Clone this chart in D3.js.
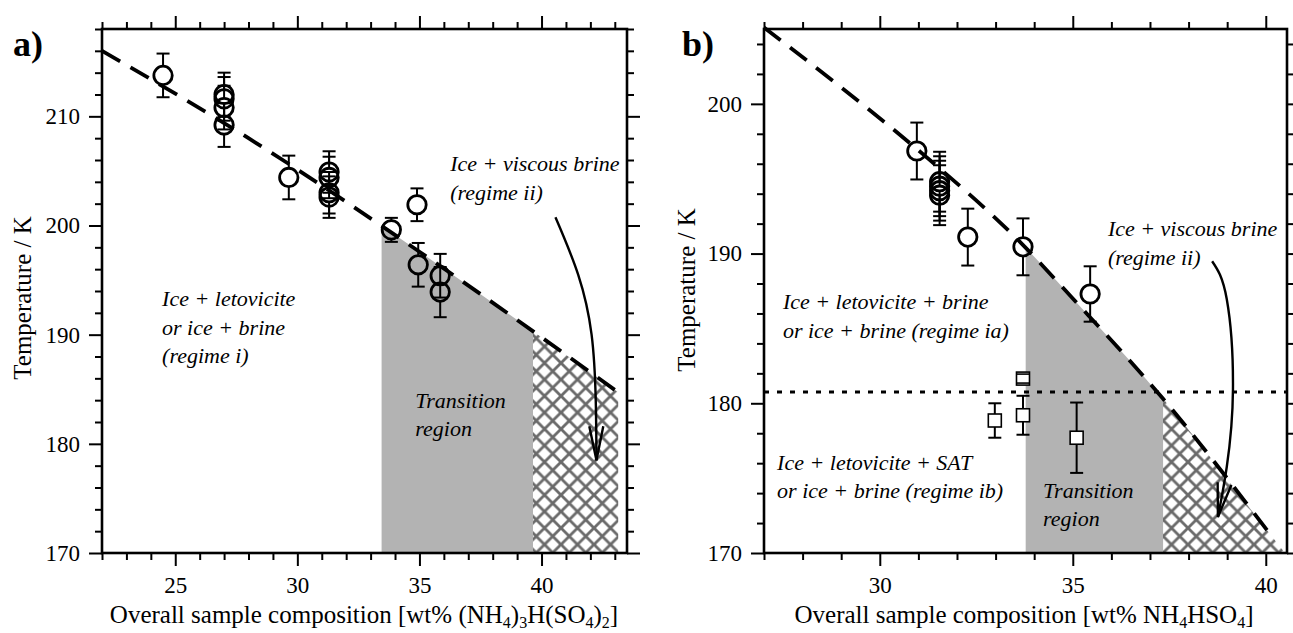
<!DOCTYPE html>
<html>
<head>
<meta charset="utf-8">
<script src="https://cdn.jsdelivr.net/npm/d3@7"></script>
<style>
  body { margin: 0; background: #fff; }
  svg { display: block; }
  svg text { font-family: "Liberation Serif", "DejaVu Serif", "Times New Roman", serif !important; fill: #000; }
</style>
</head>
<body>
<svg id="chart" width="1293" height="633"></svg>
<script>
// ---- panel a: (NH4)3H(SO4)2 ----
const compA = [24.5, 27, 27, 27, 27, 29.65, 31.3, 31.3, 31.3, 31.3, 33.85, 34.9, 34.95, 35.85, 35.85];
const tempA = [213.75, 212.0, 211.6, 210.8, 209.2, 204.4, 204.9, 204.4, 203.0, 202.6, 199.6, 201.9, 196.4, 195.4, 193.9];
const errA = [2, 2, 2, 2, 2, 2, 1.9, 1.9, 1.9, 1.9, 1.1, 1.5, 2, 2, 2.3];
const lineCompA = [22, 28, 35, 43.15];
const lineTempA = [216, 208, 197.6, 184.7];
const greyA = [33.45, 39.65];
const hatchA = [39.65, 43.15];
const arrowCompA = [40.57, 41.5, 42.05, 42.22, 42.25];
const arrowTempA = [200.75, 195.5, 190, 184, 178.5];

// ---- panel b: NH4HSO4 ----
const compB = [30.96, 31.55, 31.55, 31.55, 31.55, 32.28, 33.71, 35.45];
const tempB = [196.85, 194.8, 194.5, 194.2, 193.9, 191.1, 190.45, 187.3];
const errB = [1.9, 2, 2, 2, 2, 1.9, 1.9, 1.85];
const sqCompB = [32.98, 33.71, 33.71, 35.1];
const sqTempB = [178.85, 179.2, 181.65, 177.7];
const sqErrB = [1.15, 1.3, 0.3, 2.35];
const lineCompB = [27, 29, 31, 33.7, 35, 37.34, 40.1];
const lineTempB = [205.1, 201.1, 196.9, 190.6, 187.0, 180.3, 171.3];
const satTempB = 180.75;
const greyB = [33.78, 37.34];
const hatchB = [37.34, 40.5];
const arrowCompB = [38.61, 38.99, 39.15, 38.99, 38.76];
const arrowTempB = [189.49, 186.95, 180.92, 175.76, 172.41];

// ticks
const xMajorA = [25, 30, 35, 40];
const xMajorB = [30, 35, 40];
const yMajorA = [170, 180, 190, 200, 210];
const yMajorB = [170, 180, 190, 200];

const svg = d3.select('#chart');
const defs = svg.append('defs');

// cross hatch
const hs = 16.5;
const hatch = defs.append('pattern')
  .attr('id', 'hatch')
  .attr('patternUnits', 'userSpaceOnUse')
  .attr('width', hs)
  .attr('height', hs);
let hp = '';
[-hs, 0, hs].forEach((k) => {
  hp += `M-5,${-5 + k}L${hs + 5},${hs + 5 + k}M-5,${hs + 5 + k}L${hs + 5},${-5 + k}`;
});
hatch.append('path').attr('d', hp).attr('stroke', '#6a6a6a').attr('stroke-width', 2.8).attr('fill', 'none');

// open V arrow head
defs.append('marker')
  .attr('id', 'vhead')
  .attr('markerUnits', 'userSpaceOnUse')
  .attr('viewBox', '0 -9 36 18')
  .attr('refX', 34)
  .attr('refY', 0)
  .attr('markerWidth', 36)
  .attr('markerHeight', 18)
  .attr('orient', 'auto')
  .append('path')
  .attr('d', 'M0,-7L34,0L0,7')
  .attr('fill', 'none')
  .attr('stroke', '#000')
  .attr('stroke-width', 2.4);

function drawPanel(p) {
  const x = d3.scaleLinear(p.xDomain, p.xRange);
  const y = d3.scaleLinear(p.yDomain, [553, 29]);
  const g = svg.append('g');
  const [L, R] = x.range();
  const [B, T] = y.range();

  const linePts = d3.zip(p.lineComp, p.lineTemp);
  const areaPts = p.areaExtra ? linePts.concat([p.areaExtra]) : linePts;
  const area = d3.area().x((d) => x(d[0])).y0(B).y1((d) => y(d[1])).curve(d3.curveMonotoneX);

  const clip = (id, span) => {
    defs.append('clipPath').attr('id', id)
      .append('rect')
      .attr('x', x(span[0])).attr('y', T)
      .attr('width', x(span[1]) - x(span[0])).attr('height', B - T);
    return `url(#${id})`;
  };

  g.append('path').datum(areaPts).attr('d', area)
    .attr('fill', '#b3b3b3').attr('clip-path', clip(p.id + '-grey', p.grey));
  g.append('path').datum(areaPts).attr('d', area)
    .attr('fill', 'url(#hatch)').attr('clip-path', clip(p.id + '-hatch', p.hatch));

  // ice liquidus (dashed)
  g.append('path').datum(linePts)
    .attr('d', d3.line().x((d) => x(d[0])).y((d) => y(d[1])).curve(d3.curveMonotoneX))
    .attr('fill', 'none').attr('stroke', '#000').attr('stroke-width', 3.8)
    .attr('stroke-dasharray', '21,12');

  if (p.sat) {
    g.append('line')
      .attr('x1', L).attr('x2', R).attr('y1', y(p.sat)).attr('y2', y(p.sat))
      .attr('stroke', '#000').attr('stroke-width', 3).attr('stroke-dasharray', '5,8');
  }

  // circles with error bars
  const r = 9.2;
  const circ = d3.zip(p.comp, p.temp, p.err);
  const eb = g.append('g').attr('stroke', '#000').attr('stroke-width', 2);
  circ.forEach(([c, t, e]) => {
    const cx = x(c), cy = y(t), up = y(t + e), dn = y(t - e);
    if (cy - up > r) eb.append('line').attr('x1', cx).attr('x2', cx).attr('y1', cy - r).attr('y2', up);
    if (dn - cy > r) eb.append('line').attr('x1', cx).attr('x2', cx).attr('y1', cy + r).attr('y2', dn);
    [up, dn].forEach((yy) => eb.append('line').attr('x1', cx - 6.5).attr('x2', cx + 6.5).attr('y1', yy).attr('y2', yy));
  });
  g.append('g').selectAll('circle').data(circ).join('circle')
    .attr('cx', (d) => x(d[0])).attr('cy', (d) => y(d[1])).attr('r', r)
    .attr('fill', 'none').attr('stroke', '#000').attr('stroke-width', 2.8);

  // squares with error bars
  if (p.sqComp) {
    const sq = d3.zip(p.sqComp, p.sqTemp, p.sqErr);
    sq.forEach(([c, t, e]) => {
      const cx = x(c), up = y(t + e), dn = y(t - e);
      eb.append('line').attr('x1', cx).attr('x2', cx).attr('y1', up).attr('y2', dn);
      [up, dn].forEach((yy) => eb.append('line').attr('x1', cx - 6.5).attr('x2', cx + 6.5).attr('y1', yy).attr('y2', yy));
    });
    g.append('g').selectAll('rect').data(sq).join('rect')
      .attr('x', (d) => x(d[0]) - 6.5).attr('y', (d) => y(d[1]) - 6.5)
      .attr('width', 13).attr('height', 13)
      .attr('fill', '#fff').attr('stroke', '#000').attr('stroke-width', 1.6);
    // caps that sit inside a square stay visible
    sq.forEach(([c, t, e]) => {
      if (y(t - e) - y(t) < 6.5) {
        [y(t + e), y(t - e)].forEach((yy) => g.append('line')
          .attr('x1', x(c) - 6.5).attr('x2', x(c) + 6.5).attr('y1', yy).attr('y2', yy)
          .attr('stroke', '#000').attr('stroke-width', 1.6));
      }
    });
  }

  // curved arrow
  g.append('path').datum(d3.zip(p.arrowComp, p.arrowTemp))
    .attr('d', d3.line().x((d) => x(d[0])).y((d) => y(d[1])).curve(d3.curveNatural))
    .attr('fill', 'none').attr('stroke', '#000').attr('stroke-width', 2.4)
    .attr('marker-end', 'url(#vhead)');

  // annotations
  p.notes.forEach((n) => {
    const t = g.append('text')
      .attr('x', x(n.c)).attr('y', y(n.t))
      .attr('font-size', 22).attr('font-style', 'italic');
    n.lines.forEach((s, i) => t.append('tspan').attr('x', x(n.c)).attr('dy', i ? 28.5 : 0).text(s));
  });

  // axes: ticks outside on all four sides
  const ax = g.append('g');
  const minor = (dom, step, majors) => d3.range(Math.ceil(dom[0] / step) * step, dom[1] + 1e-9, step)
    .filter((v) => !majors.includes(v));
  const xMinor = minor(p.xDomain, 1, p.xMajor);
  const yMinor = minor(p.yDomain, 2, p.yMajor);
  const sides = [
    [d3.axisBottom, x, `translate(0,${B})`, p.xMajor, xMinor, true],
    [d3.axisTop, x, `translate(0,${T})`, p.xMajor, xMinor, false],
    [d3.axisLeft, y, `translate(${L},0)`, p.yMajor, yMinor, true],
    [d3.axisRight, y, `translate(${R},0)`, p.yMajor, yMinor, false],
  ];
  sides.forEach(([mk, sc, tr, maj, mnr, lab]) => {
    const pad = mk === d3.axisBottom ? 11 : 9;
    const ga = ax.append('g').attr('transform', tr)
      .call(mk(sc).tickValues(maj).tickSize(13).tickPadding(pad).tickFormat(d3.format('d')));
    if (!lab) ga.selectAll('text').remove();
    ax.append('g').attr('transform', tr)
      .call(mk(sc).tickValues(mnr).tickSize(7).tickFormat(d3.format('d')))
      .selectAll('text').remove();
  });
  ax.selectAll('.domain').remove();
  ax.selectAll('.tick line').attr('stroke', '#000').attr('stroke-width', 2);
  ax.selectAll('text').attr('font-size', 23).attr('fill', '#000');
  ax.selectAll('g').attr('font-family', null).attr('font-size', null);

  g.append('rect').attr('x', L).attr('y', T).attr('width', R - L).attr('height', B - T)
    .attr('fill', 'none').attr('stroke', '#000').attr('stroke-width', 2.6);

  // panel letter
  g.append('text').attr('x', p.letterX).attr('y', 56)
    .attr('font-size', 36).attr('font-weight', 'bold').text(p.letter);

  // y title
  g.append('text')
    .attr('transform', `translate(${p.yTitleX},${p.yTitleY}) rotate(-90)`)
    .attr('text-anchor', 'middle').attr('font-size', 25)
    .text('Temperature / K');

  // x title with subscripts
  const xt = g.append('text')
    .attr('x', p.xTitleX).attr('y', 623)
    .attr('text-anchor', 'middle').attr('font-size', 25);
  let back = 0;
  p.xTitle.forEach(([s, sub]) => {
    if (sub) {
      xt.append('tspan').attr('font-size', 16).attr('dy', 5 - back).text(s);
      back = 5;
    } else {
      xt.append('tspan').attr('dy', -back).text(s);
      back = 0;
    }
  });
}

drawPanel({
  id: 'a', letter: 'a)', letterX: 13,
  xDomain: [22, 43.5], xRange: [102, 627], yDomain: [170, 218],
  xMajor: xMajorA, yMajor: yMajorA,
  comp: compA, temp: tempA, err: errA,
  lineComp: lineCompA, lineTemp: lineTempA,
  grey: greyA, hatch: hatchA,
  arrowComp: arrowCompA, arrowTemp: arrowTempA,
  notes: [
    { lines: ['Ice + viscous brine', '(regime ii)'], c: 36.26, t: 204.97 },
    { lines: ['Ice + letovicite', 'or ice + brine', '(regime i)'], c: 24.46, t: 192.6 },
    { lines: ['Transition', 'region'], c: 34.83, t: 183.3 },
  ],
  yTitleX: 31, yTitleY: 298, xTitleX: 364,
  xTitle: [['Overall sample composition [wt% (NH'], ['4', 1], [')'], ['3', 1], ['H(SO'], ['4', 1], [')'], ['2', 1], [']']],
});

drawPanel({
  id: 'b', letter: 'b)', letterX: 682,
  xDomain: [27, 40.55], xRange: [764, 1287], yDomain: [170, 205],
  xMajor: xMajorB, yMajor: yMajorB,
  comp: compB, temp: tempB, err: errB,
  sqComp: sqCompB, sqTemp: sqTempB, sqErr: sqErrB,
  lineComp: lineCompB, lineTemp: lineTempB, areaExtra: [40.5, 170],
  sat: satTempB,
  grey: greyB, hatch: hatchB,
  arrowComp: arrowCompB, arrowTemp: arrowTempB,
  notes: [
    { lines: ['Ice + viscous brine', '(regime ii)'], c: 35.91, t: 191.17 },
    { lines: ['Ice + letovicite + brine', 'or ice + brine (regime ia)'], c: 27.49, t: 186.28 },
    { lines: ['Ice + letovicite + SAT', 'or ice + brine (regime ib)'], c: 27.34, t: 175.56 },
    { lines: ['Transition', 'region'], c: 34.23, t: 173.68 },
  ],
  yTitleX: 695, yTitleY: 290, xTitleX: 1024,
  xTitle: [['Overall sample composition [wt% NH'], ['4', 1], ['HSO'], ['4', 1], [']']],
});
</script>
</body>
</html>
